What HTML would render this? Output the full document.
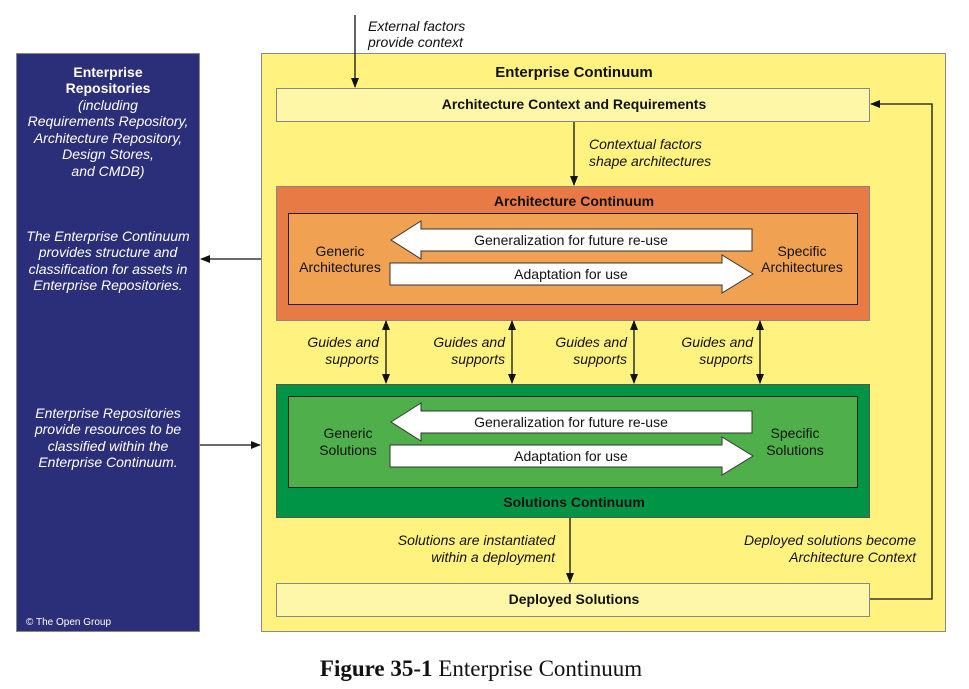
<!DOCTYPE html>
<html><head><style>body{margin:0;background:#fff}svg{display:block}text{font-family:"Liberation Sans",sans-serif;font-size:14px;fill:#111}text.w{fill:#fff}</style></head><body>
<svg width="969" height="689" viewBox="0 0 969 689" xmlns="http://www.w3.org/2000/svg">
<defs><marker id="a" markerWidth="10" markerHeight="10" refX="9" refY="5" orient="auto-start-reverse" markerUnits="userSpaceOnUse"><path d="M0,1 L10,5 L0,9 z" fill="#111"/></marker></defs>
<rect x="16.5" y="53.5" width="183" height="578" fill="#2b2e78" stroke="#888"/>
<g text-anchor="middle">
<text class="w" x="108" y="77" font-weight="bold">Enterprise</text>
<text class="w" x="108" y="93" font-weight="bold">Repositories</text>
<g font-style="italic"><text class="w" x="108" y="110">(including</text><text class="w" x="108" y="126">Requirements Repository,</text><text class="w" x="108" y="143">Architecture Repository,</text><text class="w" x="108" y="159">Design Stores,</text><text class="w" x="108" y="176">and CMDB)</text>
<text class="w" x="108" y="241">The Enterprise Continuum</text><text class="w" x="108" y="257">provides structure and</text><text class="w" x="108" y="274">classification for assets in</text><text class="w" x="108" y="290">Enterprise Repositories.</text>
<text class="w" x="108" y="418">Enterprise Repositories</text><text class="w" x="108" y="434">provide resources to be</text><text class="w" x="108" y="451">classified within the</text><text class="w" x="108" y="467">Enterprise Continuum.</text></g>
</g>
<text class="w" x="26" y="625" style="font-size:10px">© The Open Group</text>
<rect x="261.5" y="53.5" width="684" height="578" fill="#fff27f" stroke="#888"/>
<text x="574" y="77" text-anchor="middle" font-weight="bold" style="font-size:15px">Enterprise Continuum</text>
<rect x="276.5" y="88.5" width="593" height="33" fill="#fff7a8" stroke="#888"/>
<text x="574" y="109" text-anchor="middle" font-weight="bold">Architecture Context and Requirements</text>
<rect x="276.5" y="186.5" width="593" height="134" fill="#e87a45" stroke="#888"/>
<text x="574" y="206" text-anchor="middle" font-weight="bold">Architecture Continuum</text>
<rect x="288.5" y="213.5" width="569" height="91" fill="#f0a152" stroke="#222"/>
<rect x="276.5" y="384.5" width="593" height="133" fill="#009447" stroke="#555"/>
<text x="574" y="507" text-anchor="middle" font-weight="bold">Solutions Continuum</text>
<rect x="288.5" y="396.5" width="569" height="91" fill="#4faf4a" stroke="#222"/>
<rect x="276.5" y="583.5" width="593" height="33" fill="#fff7a8" stroke="#888"/>
<text x="574" y="604" text-anchor="middle" font-weight="bold">Deployed Solutions</text>
<g fill="#fff" stroke="#333">
<path d="M391,240 L421,221 L421,229 L752,229 L752,251 L421,251 L421,259 z"/>
<path d="M390,263 L722,263 L722,255 L753,274 L722,293 L722,285 L390,285 z"/>
<path d="M391,422 L421,403 L421,411 L752,411 L752,433 L421,433 L421,441 z"/>
<path d="M390,445 L722,445 L722,437 L753,456 L722,475 L722,467 L390,467 z"/>
</g>
<g text-anchor="middle">
<text x="571" y="245">Generalization for future re-use</text><text x="571" y="279">Adaptation for use</text>
<text x="571" y="427">Generalization for future re-use</text><text x="571" y="461">Adaptation for use</text>
<text x="340" y="256">Generic</text><text x="340" y="272">Architectures</text>
<text x="802" y="256">Specific</text><text x="802" y="272">Architectures</text>
<text x="348" y="438">Generic</text><text x="348" y="455">Solutions</text>
<text x="795" y="438">Specific</text><text x="795" y="455">Solutions</text>
</g>
<g stroke="#111" stroke-width="1.3" fill="none">
<line x1="355" y1="15" x2="355" y2="87" marker-end="url(#a)"/>
<line x1="574" y1="122" x2="574" y2="185" marker-end="url(#a)"/>
<line x1="570" y1="518" x2="570" y2="582" marker-end="url(#a)"/>
<line x1="386" y1="321" x2="386" y2="383" marker-start="url(#a)" marker-end="url(#a)"/>
<line x1="512" y1="321" x2="512" y2="383" marker-start="url(#a)" marker-end="url(#a)"/>
<line x1="634" y1="321" x2="634" y2="383" marker-start="url(#a)" marker-end="url(#a)"/>
<line x1="760" y1="321" x2="760" y2="383" marker-start="url(#a)" marker-end="url(#a)"/>
<line x1="261" y1="259" x2="201" y2="259" marker-end="url(#a)"/>
<line x1="200" y1="445" x2="260" y2="445" marker-end="url(#a)"/>
<polyline points="870,599 932,599 932,104 871,104" marker-end="url(#a)"/>
</g>
<g font-style="italic">
<text x="368" y="31">External factors</text><text x="368" y="47">provide context</text>
<text x="589" y="149">Contextual factors</text><text x="589" y="166">shape architectures</text>
<g text-anchor="end">
<text x="379" y="347">Guides and</text><text x="379" y="364">supports</text>
<text x="505" y="347">Guides and</text><text x="505" y="364">supports</text>
<text x="627" y="347">Guides and</text><text x="627" y="364">supports</text>
<text x="753" y="347">Guides and</text><text x="753" y="364">supports</text>
<text x="555" y="545">Solutions are instantiated</text><text x="555" y="562">within a deployment</text>
<text x="916" y="545">Deployed solutions become</text><text x="916" y="562">Architecture Context</text>
</g></g>
<text x="481" y="676" text-anchor="middle" style="font-family:'Liberation Serif',serif;font-size:23px"><tspan font-weight="bold">Figure 35-1</tspan>  Enterprise Continuum</text>
</svg>
</body></html>
